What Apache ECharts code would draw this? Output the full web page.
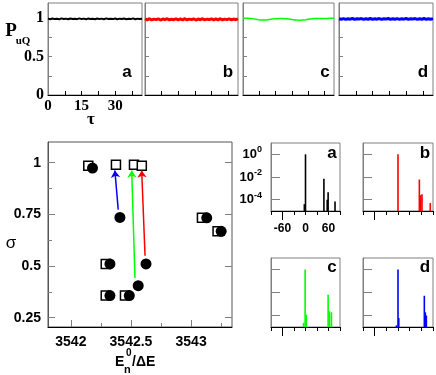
<!DOCTYPE html>
<html>
<head>
<meta charset="utf-8">
<script src="https://cdn.jsdelivr.net/npm/echarts@6/dist/echarts.min.js"></script>
<style>
  html, body { margin: 0; padding: 0; background: #fff; }
  #chart { width: 436px; height: 375px; }
</style>
</head>
<body>
<div id="chart"></div>
<script>
// top row: P_uQ against tau, one value per unit of tau
var tau = [0,1,2,3,4,5,6,7,8,9,10,11,12,13,14,15,16,17,18,19,20,21,22,23,24,25,26,27,28,29,30,31,32,33,34,35,36,37,38,39,40,41,42];
var pBlack = [0.996,0.989,0.998,0.99,0.995,0.987,0.999,0.991,0.996,0.988,0.998,0.992,0.995,0.989,0.999,0.99,0.996,0.987,0.998,0.991,0.995,0.989,0.998,0.99,0.996,0.988,0.999,0.991,0.995,0.99,0.998,0.988,0.996,0.991,0.998,0.989,0.995,0.99,0.999,0.988,0.996,0.991,0.995];
var pRed = [0.992,0.981,0.995,0.979,0.99,0.983,0.994,0.978,0.991,0.984,0.995,0.98,0.989,0.982,0.994,0.979,0.992,0.981,0.995,0.98,0.99,0.983,0.994,0.978,0.991,0.982,0.995,0.98,0.989,0.984,0.994,0.979,0.992,0.981,0.995,0.98,0.99,0.983,0.994,0.979,0.991,0.982,0.993];
var pGreen = [1.0,1.0,1.0,0.999,0.997,0.993,0.988,0.983,0.979,0.977,0.977,0.979,0.984,0.989,0.993,0.995,0.996,0.997,0.997,0.996,0.994,0.991,0.987,0.983,0.979,0.977,0.976,0.977,0.979,0.983,0.988,0.992,0.995,0.997,0.998,0.998,0.998,0.999,0.999,0.999,1.0,1.0,1.0];
var pBlue = [0.995,0.988,0.997,0.986,0.994,0.989,0.998,0.987,0.995,0.99,0.997,0.986,0.994,0.988,0.998,0.987,0.995,0.989,0.997,0.986,0.994,0.99,0.998,0.987,0.995,0.988,0.997,0.986,0.994,0.989,0.998,0.987,0.995,0.99,0.997,0.986,0.994,0.988,0.998,0.987,0.995,0.989,0.996];
var tauTicks = [7.5,15,22.5,30,37.5];
var tauLabels = [0,15,30];

// bottom left: sigma against E_n^0/dE
var squares = [[3542.145,0.985],[3542.375,0.99],[3542.525,0.99],[3542.59,0.985],[3542.29,0.51],[3542.29,0.357],[3542.45,0.357],[3543.09,0.733],[3543.22,0.668]];
var circles = [[3542.18,0.974],[3542.408,0.735],[3542.325,0.51],[3542.625,0.51],[3542.56,0.405],[3542.325,0.357],[3542.486,0.357],[3543.13,0.733],[3543.25,0.668]];
var arrowFrom = [[3542.394,0.773],[3542.533,0.442],[3542.617,0.55]];
var arrowTo = [[3542.366,0.962],[3542.506,0.962],[3542.589,0.962]];
var arrowColor = ['#0000ff','#00ff00','#ff0000'];
var eTicks = [3542,3542.5,3543];
var eMinor = [3542.25,3542.75,3543.25];
var sTicks = [0.25,0.5,0.75,1];
var sMinor = [0.375,0.625,0.875];

// bottom right: spectra (log scale)
var specAx = [-3,0,48,56.6,59,77];
var specAy = [4e-5,1,7e-3,1e-4,4.4e-4,7e-5];
var specBx = [0,54.9,58.3,61.7,83];
var specBy = [1,6e-3,2.5e-4,3e-4,5e-5];
var specCx = [-5,-1,2,59,62.6,67.7];
var specCy = [2.3e-5,1,1.2e-4,6.3e-3,2.3e-4,1.9e-4];
var specDx = [-4,0,2,67.7,70.3,72.9];
var specDy = [1.4e-5,1,6e-5,5.2e-3,1.9e-4,1e-4];
var decadeTicks = [-4,-2,0];

var serif = 'Liberation Serif', sans = 'Liberation Sans';
var gray = '#808080';

var grids = [], xs = [], ys = [], series = [];

// ---- top row
var topData = [pBlack, pRed, pGreen, pBlue];
var topColor = ['#000000','#ff0000','#00ff00','#0000ff'];
var topWidth = [2, 3, 1.5, 3];
var topLeft = [48,145,243,339], topW = [94,93,91,94];
for (var i = 0; i < 4; i++) {
  grids.push({ left: topLeft[i], top: 3, width: topW[i], height: 92, show: true, borderColor: gray, borderWidth: 1 });
  xs.push({
    type: 'value', gridIndex: i, min: 0, max: 42, position: 'bottom',
    axisLine: { onZero: false, lineStyle: { color: '#000', width: 1 } },
    axisTick: { inside: true, length: 4, customValues: tauTicks, lineStyle: { color: '#000' } },
    axisLabel: { show: i === 0, customValues: tauLabels, margin: 4, color: '#000', fontFamily: serif, fontWeight: 'bold', fontSize: 15 },
    splitLine: { show: false }
  });
  ys.push({
    type: 'value', gridIndex: i, min: 0, max: 1.2,
    axisLine: { show: true, onZero: false, lineStyle: { color: gray } },
    axisTick: { inside: true, length: 4, customValues: [0.25,0.5,0.75,1], lineStyle: { color: gray } },
    axisLabel: { show: i === 0, customValues: [0,0.5,1], margin: 4, color: '#000', fontFamily: serif, fontWeight: 'bold', fontSize: 16 },
    splitLine: { show: false }
  });
  series.push({
    type: 'line', xAxisIndex: i, yAxisIndex: i, showSymbol: false, silent: true,
    lineStyle: { color: topColor[i], width: topWidth[i] },
    data: topData[i].map(function (v, k) { return [tau[k], v]; })
  });
}

// ---- scatter panel (grid 4)
grids.push({ left: 48, top: 142, width: 184, height: 185, show: true, borderColor: '#555', borderWidth: 1 });
xs.push({
  type: 'value', gridIndex: 4, min: 3541.81, max: 3543.34, position: 'bottom',
  axisLine: { onZero: false, lineStyle: { color: '#000' } },
  axisTick: { inside: true, length: 7, customValues: eTicks, lineStyle: { color: gray } },
  axisLabel: { customValues: eTicks, margin: 8, color: '#000', fontFamily: sans, fontWeight: 'bold', fontSize: 14,
    formatter: function (v) { return String(v); } },
  splitLine: { show: false }
});
xs.push({
  type: 'value', gridIndex: 4, min: 3541.81, max: 3543.34, position: 'bottom',
  axisLine: { show: false, onZero: false },
  axisTick: { inside: true, length: 4, customValues: eMinor, lineStyle: { color: gray } },
  axisLabel: { show: false }, splitLine: { show: false }
});
ys.push({
  type: 'value', gridIndex: 4, min: 0.205, max: 1.1, position: 'left',
  axisLine: { show: true, onZero: false, lineStyle: { color: '#555' } },
  axisTick: { inside: true, length: 7, customValues: sTicks, lineStyle: { color: gray } },
  axisLabel: { customValues: sTicks, margin: 7, color: '#000', fontFamily: sans, fontWeight: 'bold', fontSize: 14 },
  splitLine: { show: false }
});
ys.push({
  type: 'value', gridIndex: 4, min: 0.205, max: 1.1, position: 'left',
  axisLine: { show: false, onZero: false },
  axisTick: { inside: true, length: 4, customValues: sMinor, lineStyle: { color: gray } },
  axisLabel: { show: false }, splitLine: { show: false }
});
ys.push({
  type: 'value', gridIndex: 4, min: 0.205, max: 1.1, position: 'right',
  axisLine: { show: false, onZero: false },
  axisTick: { inside: true, length: 7, customValues: sTicks, lineStyle: { color: gray } },
  axisLabel: { show: false }, splitLine: { show: false }
});
series.push({
  type: 'scatter', xAxisIndex: 4, yAxisIndex: 4, silent: true, data: [],
  markLine: {
    silent: true, symbol: ['none', 'arrow'], symbolSize: 7, label: { show: false },
    lineStyle: { type: 'solid', width: 1.5 },
    data: arrowFrom.map(function (p, k) {
      return [{ coord: p, lineStyle: { color: arrowColor[k], type: 'solid', width: 1.5 }, itemStyle: { color: arrowColor[k] } }, { coord: arrowTo[k] }];
    })
  }
});
series.push({
  type: 'scatter', xAxisIndex: 4, yAxisIndex: 4, silent: true, symbol: 'rect', symbolSize: 9,
  itemStyle: { color: '#fff', borderColor: '#000', borderWidth: 1.5, opacity: 1 },
  data: squares
});
series.push({
  type: 'scatter', xAxisIndex: 4, yAxisIndex: 4, silent: true, symbol: 'circle', symbolSize: 11,
  itemStyle: { color: '#000', opacity: 1 },
  data: circles
});

// ---- spectra panels (grids 5..8)
var specX = [specAx, specBx, specCx, specDx];
var specY = [specAy, specBy, specCy, specDy];
var specColor = ['#000000','#ff0000','#00ff00','#0000ff'];
var specLeft = [271, 363, 271, 363], specTop = [143, 143, 258, 258];
var specW = [69, 70, 69, 70], specH = [68, 68, 69, 69];
for (var j = 0; j < 4; j++) {
  var g = 5 + j;
  grids.push({ left: specLeft[j], top: specTop[j], width: specW[j], height: specH[j], show: true, borderColor: gray, borderWidth: 1 });
  var xi = xs.length;
  xs.push({
    type: 'value', gridIndex: g, min: -90, max: 90, position: 'bottom',
    axisLine: { onZero: false, lineStyle: { color: '#000' } },
    axisTick: { inside: false, length: 4, customValues: [-90,-30,0,30,60,90], lineStyle: { color: '#000' } },
    axisLabel: { show: j === 0, customValues: [-60,0,60], margin: 12, color: '#000', fontFamily: sans, fontWeight: 'bold', fontSize: 12 },
    splitLine: { show: false }
  });
  xs.push({
    type: 'value', gridIndex: g, min: -90, max: 90, position: 'bottom',
    axisLine: { show: false, onZero: false },
    axisTick: { inside: false, length: 9, customValues: [-60], lineStyle: { color: '#000' } },
    axisLabel: { show: false }, splitLine: { show: false }
  });
  var yi = ys.length;
  ys.push({
    type: 'value', gridIndex: g, min: -5, max: 1,
    axisLine: { show: true, onZero: false, lineStyle: { color: gray } },
    axisTick: { inside: true, length: 9, customValues: decadeTicks, lineStyle: { color: gray } },
    axisLabel: {
      show: j === 0, customValues: decadeTicks, margin: 9,
      formatter: function (v) { return '{b|10}{s|' + v + '}'; },
      rich: {
        b: { fontFamily: sans, fontWeight: 'bold', fontSize: 13, color: '#000' },
        s: { fontFamily: sans, fontWeight: 'bold', fontSize: 9, color: '#000', padding: [0, 0, 9, 0] }
      }
    },
    splitLine: { show: false }
  });
  (function (col) {
    series.push({
      type: 'custom', xAxisIndex: xi, yAxisIndex: yi, silent: true,
      data: specX[j].map(function (x, k) { return [x, Math.log10(specY[j][k])]; }),
      renderItem: function (params, api) {
        var top = api.coord([api.value(0), api.value(1)]);
        var base = api.coord([api.value(0), -5]);
        return { type: 'rect', shape: { x: top[0] - 0.8, y: top[1], width: 1.6, height: base[1] - top[1] }, style: { fill: col } };
      }
    });
  })(specColor[j]);
}

function txt(x, y, s, font, align) {
  return { type: 'text', x: x, y: y, silent: true,
    style: { text: s, font: font, fill: '#000', align: align || 'center', verticalAlign: 'middle' } };
}

var graphics = [
  txt(11, 31, 'P', 'bold 19px ' + serif),
  txt(23, 41, 'uQ', 'bold 11px ' + serif),
  txt(91, 120, 'τ', 'bold 17px ' + serif),
  txt(127, 72, 'a', 'bold 17px ' + sans),
  txt(228, 72, 'b', 'bold 17px ' + sans),
  txt(325, 72, 'c', 'bold 17px ' + sans),
  txt(423, 72, 'd', 'bold 17px ' + sans),
  txt(11, 243, 'σ', '17px ' + sans),
  txt(115, 362, 'E', 'bold 14px ' + sans, 'left'),
  txt(124, 370, 'n', 'bold 11px ' + sans, 'left'),
  txt(126, 353, '0', 'bold 10px ' + sans, 'left'),
  txt(132, 362, '/ΔE', 'bold 14px ' + sans, 'left'),
  txt(332, 153, 'a', 'bold 17px ' + sans),
  txt(425, 153, 'b', 'bold 17px ' + sans),
  txt(332, 267, 'c', 'bold 17px ' + sans),
  txt(425, 267, 'd', 'bold 17px ' + sans)
];

var myChart = echarts.init(document.getElementById('chart'));
myChart.setOption({
  animation: false,
  backgroundColor: '#fff',
  grid: grids,
  xAxis: xs,
  yAxis: ys,
  series: series,
  graphic: graphics
});
</script>
</body>
</html>
